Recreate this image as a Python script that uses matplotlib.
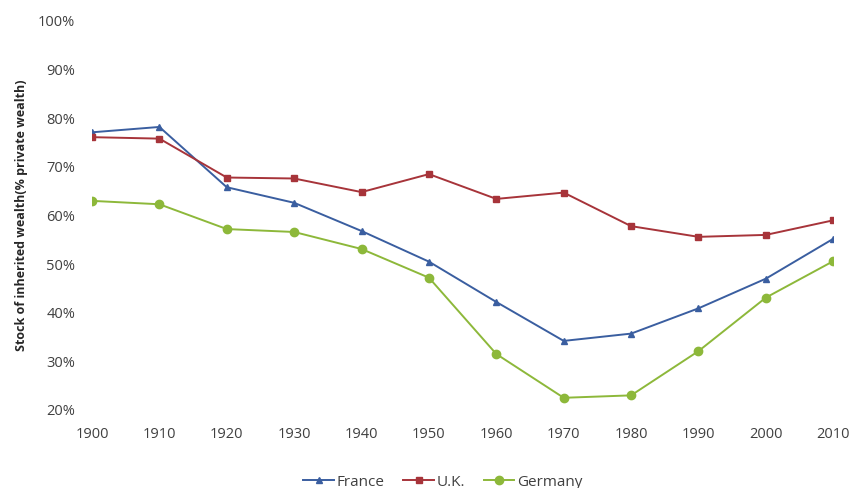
import matplotlib.pyplot as plt
from matplotlib.ticker import PercentFormatter

plt.rcParams['font.family'] = ['Open Sans', 'DejaVu Sans']

years = [1900, 1910, 1920, 1930, 1940, 1950, 1960, 1970, 1980, 1990, 2000, 2010]
france = [76.9, 78.0, 65.6, 62.4, 56.6, 50.3, 42.0, 34.0, 35.5, 40.7, 46.8, 55.0]
uk = [75.9, 75.6, 67.6, 67.4, 64.6, 68.3, 63.2, 64.5, 57.6, 55.4, 55.8, 58.8]
germany = [62.8, 62.1, 57.0, 56.4, 52.9, 47.0, 31.3, 22.3, 22.8, 31.9, 42.9, 50.4]

fig = plt.figure(figsize=(8.52, 4.89), dpi=100)
ax = fig.add_axes([0.108, 0.1616, 0.870, 0.7955])

ax.plot(years, france, color='#3A5EA0', marker='^', markersize=5, lw=1.4, label='France')
ax.plot(years, uk, color='#A7343A', marker='s', markersize=5, lw=1.4, label='U.K.')
ax.plot(years, germany, color='#8DB83A', marker='o', markersize=6, lw=1.4, label='Germany')

ax.set_xlim(1900, 2010)
ax.set_ylim(20, 100)
ax.set_xticks(years)
ax.set_yticks(range(20, 101, 10))
ax.yaxis.set_major_formatter(PercentFormatter(decimals=0))
ax.tick_params(length=0, labelsize=10.5, labelcolor='#404040')
ax.tick_params(axis='y', pad=12)
ax.tick_params(axis='x', pad=12)
for s in ax.spines.values():
    s.set_visible(False)

ax.set_ylabel('Stock of inherited wealth(% private wealth)', fontsize=9,
              fontweight='bold', color='#262626', labelpad=7)

fig.legend(loc='lower center', bbox_to_anchor=(0.52, -0.03), ncol=3, frameon=False,
           fontsize=11, handlelength=2, columnspacing=1.2, handletextpad=0.2,
           labelcolor='#404040')

fig.savefig('out.png', dpi=100)
